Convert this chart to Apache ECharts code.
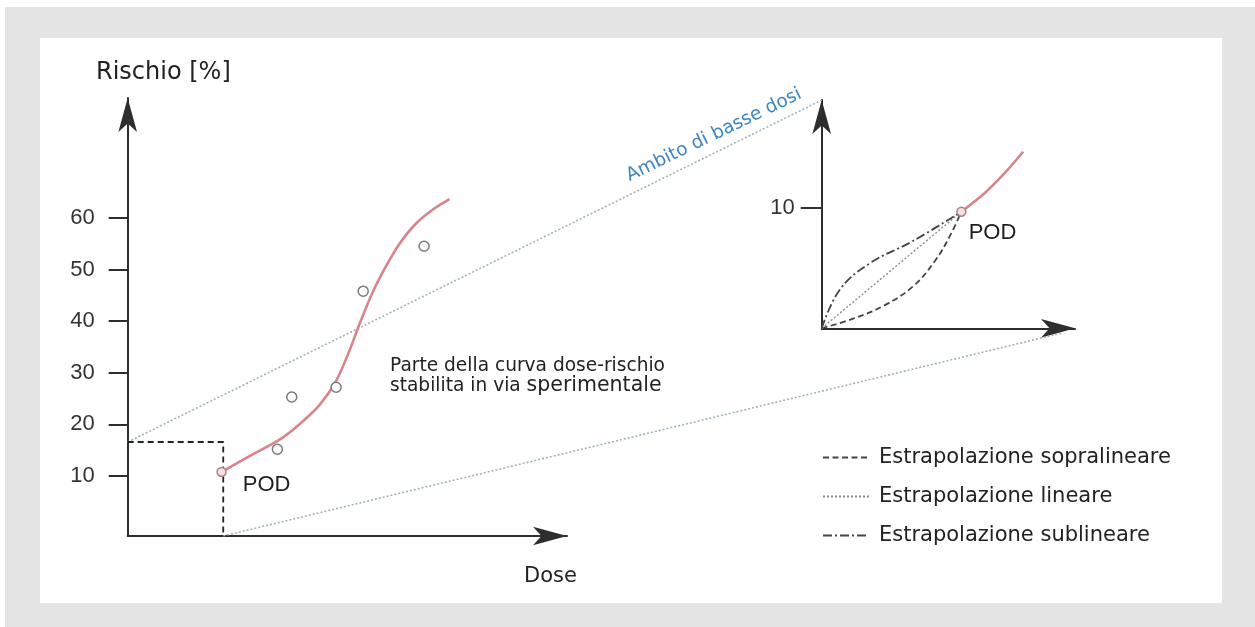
<!DOCTYPE html>
<html><head><meta charset="utf-8">
<script src="https://cdn.jsdelivr.net/npm/echarts@6/dist/echarts.min.js"></script>
<style>
html,body{margin:0;padding:0;background:#fff;overflow:hidden;}
#bg{position:absolute;left:5px;top:7px;width:1250px;height:620px;background:#e5e5e5;}
#panel{position:absolute;left:40px;top:38px;width:1182px;height:565px;background:#fff;}
#chart{position:absolute;left:0;top:0;width:1255px;height:627px;}
</style></head><body>
<div id="bg"></div><div id="panel"></div><div id="chart"></div>
<script>
// ---- data ----
const riskTicks = [10, 20, 30, 40, 50, 60];
const insetTicks = [10];
const fittedCurve = [[22.2,10.8],[28.9,13.9],[36.0,17.1],[40.7,20.1],[45.4,23.8],[49.4,28.6],[52.5,34.4],[54.9,39.6],[58.0,45.7],[61.2,50.8],[64.3,55.0],[68.2,58.9],[72.2,61.6],[76.1,63.6]];
const observed = [[35.4,15.2],[38.8,25.3],[49.3,27.2],[55.7,45.8],[70.1,54.5]];
const podMain = [[22.2,10.8]];
const podBox = [[0,16.6],[22.6,16.6],[22.6,-1.6]];
const upperGuide = [[0,16.6],[164.1,82.8]];
const lowerGuide = [[22.6,-1.6],[220.9,37.7]];
const insetCurve = [[11.58,9.67],[13.5,11.2],[15.2,12.9],[16.7,14.64]];
const podInset = [[11.58,9.67]];
const linearExtrap = [[0,0],[11.58,9.67]];
const supraExtrap = [[0,0],[2.6,0.8],[5.2,1.9],[7.6,3.5],[9.4,5.6],[10.6,7.6],[11.58,9.67]];
const subExtrap = [[0,0],[1.5,3.2],[4,5.4],[7.5,7.2],[11.58,9.67]];
const legendNames = ['Estrapolazione sopralineare', 'Estrapolazione lineare', 'Estrapolazione sublineare'];

const AX = '#2e2e2e';
const RED = '#d6858a';
const GUIDE = '#9fb2bf';
const chart = echarts.init(document.getElementById('chart'), null, {renderer: 'canvas'});

const axisLineArrow = {show: true, onZero: false, symbol: ['none', 'arrow'], symbolSize: [14, 34], lineStyle: {color: AX, width: 2}};

chart.setOption({
  animation: false,
  backgroundColor: 'transparent',
  grid: [
    {left: 127.7, top: 98, width: 439.3, height: 438, outerBoundsMode: 'none'},
    {left: 821.7, top: 100, width: 253.3, height: 228.3, outerBoundsMode: 'none'},
    {left: 127.7, top: 100.1, width: 934.3, height: 435.9, outerBoundsMode: 'none'}
  ],
  xAxis: [
    {type: 'value', gridIndex: 0, min: 0, max: 103.9, axisLine: axisLineArrow, axisTick: {show: false}, axisLabel: {show: false}, splitLine: {show: false}},
    {type: 'value', gridIndex: 1, min: 0, max: 21.0, axisLine: axisLineArrow, axisTick: {show: false}, axisLabel: {show: false}, splitLine: {show: false}},
    {type: 'value', gridIndex: 2, min: 0, max: 220.9, show: false, splitLine: {show: false}}
  ],
  yAxis: [
    {type: 'value', gridIndex: 0, min: -1.6, max: 83.2, axisLine: axisLineArrow,
     axisTick: {show: true, length: 19, customValues: riskTicks, lineStyle: {color: AX, width: 2}},
     axisLabel: {show: true, customValues: riskTicks, margin: 33, fontFamily: 'Liberation Sans', fontSize: 22, color: '#333'},
     splitLine: {show: false}},
    {type: 'value', gridIndex: 1, min: 0, max: 18.93, axisLine: axisLineArrow,
     axisTick: {show: true, length: 21, customValues: insetTicks, lineStyle: {color: AX, width: 2}},
     axisLabel: {show: true, customValues: insetTicks, margin: 27, fontFamily: 'Liberation Sans', fontSize: 22, color: '#333'},
     splitLine: {show: false}},
    {type: 'value', gridIndex: 2, min: -1.6, max: 82.8, show: false, splitLine: {show: false}}
  ],
  legend: {
    data: legendNames, orient: 'vertical', left: 822, top: 447, itemWidth: 46, itemHeight: 14, itemGap: 18,
    selectedMode: false, padding: 0,
    itemStyle: {opacity: 0},
    textStyle: {fontFamily: 'DejaVu Sans', fontSize: 21, color: '#222', lineHeight: 21, padding: [0, 0, 0, 5]}
  },
  graphic: [
    {type: 'text', x: 96, y: 73, style: {text: 'Rischio [%]', font: '24px "DejaVu Sans"', fill: '#222', align: 'left', verticalAlign: 'middle'}},
    {type: 'text', x: 524, y: 577, style: {text: 'Dose', font: '21px "DejaVu Sans"', fill: '#222', align: 'left', verticalAlign: 'middle'}},
    {type: 'text', x: 390, y: 366, style: {text: 'Parte della curva dose-rischio', font: '18.6px "DejaVu Sans"', fill: '#222', align: 'left', verticalAlign: 'middle'}},
    {type: 'text', x: 390, y: 386, style: {text: '{a|stabilita in via }{b|sperimentale}', rich: {a: {fontFamily: 'DejaVu Sans', fontSize: 18.6, fill: '#222'}, b: {fontFamily: 'DejaVu Sans', fontSize: 20.5, fill: '#222'}}, align: 'left', verticalAlign: 'middle'}},
    {type: 'text', x: 714, y: 135, rotation: 0.45, style: {text: 'Ambito di basse dosi', font: '18.5px "DejaVu Sans"', fill: '#3d86c4', align: 'center', verticalAlign: 'middle'}}
  ],
  series: [
    {type: 'line', xAxisIndex: 0, yAxisIndex: 0, data: podBox, symbol: 'none', lineStyle: {color: '#222', width: 1.8, type: [6, 4]}, z: 3},
    {type: 'line', xAxisIndex: 2, yAxisIndex: 2, data: upperGuide, symbol: 'none', lineStyle: {color: GUIDE, width: 1.6, type: [2, 2]}, z: 2},
    {type: 'line', xAxisIndex: 2, yAxisIndex: 2, data: lowerGuide, symbol: 'none', lineStyle: {color: GUIDE, width: 1.6, type: [2, 2]}, z: 2},
    {type: 'line', xAxisIndex: 0, yAxisIndex: 0, data: fittedCurve, symbol: 'none', smooth: 0.3, lineStyle: {color: RED, width: 2.6}, z: 4},
    {type: 'scatter', xAxisIndex: 0, yAxisIndex: 0, data: observed, symbol: 'circle', symbolSize: 10, itemStyle: {color: '#fff', borderColor: '#7a7a7a', borderWidth: 1.5, opacity: 1}, z: 5},
    {type: 'scatter', xAxisIndex: 0, yAxisIndex: 0, data: podMain, symbol: 'circle', symbolSize: 9, itemStyle: {color: '#f4dede', borderColor: '#a88888', borderWidth: 1.5, opacity: 1}, z: 6,
     label: {show: true, formatter: 'POD', position: 'right', offset: [11, 13], fontFamily: 'Liberation Sans', fontSize: 22, color: '#1e1e1e'}},
    {type: 'line', name: legendNames[0], xAxisIndex: 1, yAxisIndex: 1, data: supraExtrap, symbol: 'none', smooth: 0.4, lineStyle: {color: '#444', width: 1.8, type: [6, 3.5]}, itemStyle: {color: '#444'}, z: 3},
    {type: 'line', name: legendNames[1], xAxisIndex: 1, yAxisIndex: 1, data: linearExtrap, symbol: 'none', lineStyle: {color: '#8a8a8a', width: 1.4, type: [2, 2]}, itemStyle: {color: '#8a8a8a'}, z: 3},
    {type: 'line', name: legendNames[2], xAxisIndex: 1, yAxisIndex: 1, data: subExtrap, symbol: 'none', smooth: 0.4, lineStyle: {color: '#444', width: 1.8, type: [9, 3, 2, 3]}, itemStyle: {color: '#444'}, z: 3},
    {type: 'line', xAxisIndex: 1, yAxisIndex: 1, data: insetCurve, symbol: 'none', smooth: 0.3, lineStyle: {color: RED, width: 2.6}, z: 4},
    {type: 'scatter', xAxisIndex: 1, yAxisIndex: 1, data: podInset, symbol: 'circle', symbolSize: 9, itemStyle: {color: '#f4dede', borderColor: '#a88888', borderWidth: 1.5, opacity: 1}, z: 6,
     label: {show: true, formatter: 'POD', position: 'right', offset: [-3, 21], fontFamily: 'Liberation Sans', fontSize: 22, color: '#1e1e1e'}}
  ]
});
</script>
</body></html>
